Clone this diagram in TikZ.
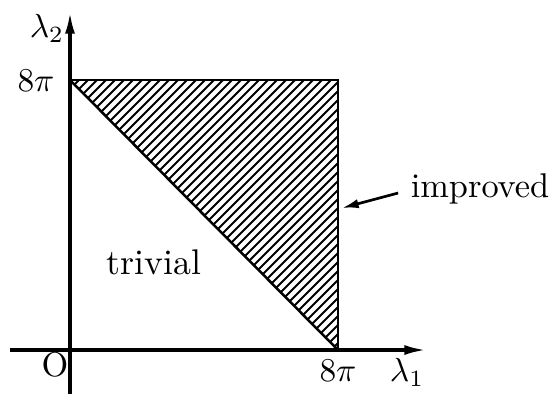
\documentclass[tikz,border=0pt]{standalone}
\usetikzlibrary{arrows.meta}
\begin{document}
\begin{tikzpicture}[x=0.3pt,y=-0.3pt,
  axis/.style={line width=0.95pt,-{Latex[length=6.5pt,width=3pt]}},
  edge/.style={line width=0.75pt},
  hatchline/.style={line width=0.58pt},
  lbl/.style={inner sep=0pt,font=\fontsize{10.3}{12}\selectfont},
  pointer/.style={line width=0.8pt,-{Latex[length=5pt,width=2.8pt]}}]
\useasboundingbox (0,0) rectangle (552,396);
% key points
\coordinate (O) at (70,350);
\coordinate (A) at (70,80);
\coordinate (B) at (338,80);
\coordinate (C) at (338,350);
\coordinate (xs) at (10,350);
\coordinate (xe) at (426,350);
\coordinate (ys) at (70,394);
\coordinate (ye) at (70,12);
% hatching
\begin{scope}
\clip (A) -- (B) -- (C) -- cycle;
\foreach \k in {0,...,60}{
  \pgfmathsetmacro{\c}{150+9*\k}
  \draw[hatchline] ({\c-350},350) -- ({\c-80},80);
}
\end{scope}
% outline
\draw[edge] (A) -- (B) -- (C);
\draw[edge] (A) -- (C);
% axes
\draw[axis] (xs) -- (xe);
\draw[axis] (ys) -- (ye);
% labels
\node[lbl] (l2) at (47,28) {$\lambda_2$};
\node[lbl] (ey) at (36,81) {$8\pi$};
\node[lbl] (o) at (55,365) {O};
\node[lbl] (ex) at (338,371) {$8\pi$};
\node[lbl] (l1) at (407,372) {$\lambda_1$};
\node[lbl,font=\fontsize{10.7}{12}\selectfont] (triv) at (154,262) {trivial};
\node[lbl] (imp) at (480,189) {improved};
\coordinate (tip) at (342,208);
\draw[pointer] (imp.west) ++(-12,4) coordinate (ps) -- (tip);
\end{tikzpicture}
\end{document}
